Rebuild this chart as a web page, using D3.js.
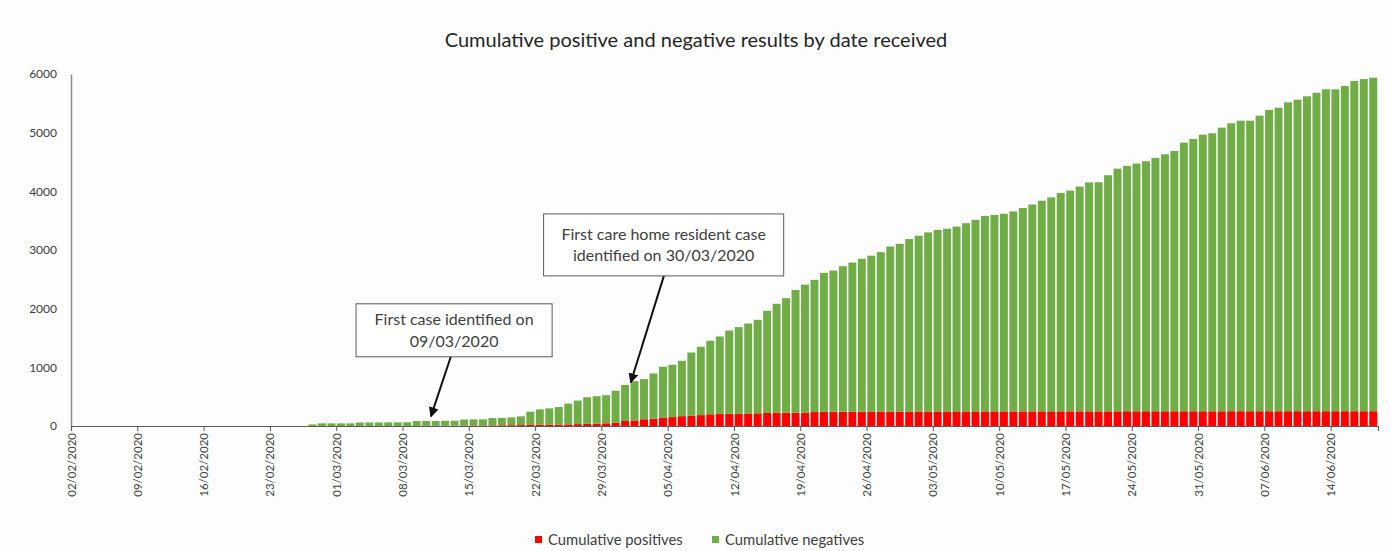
<!DOCTYPE html>
<html>
<head>
<meta charset="utf-8">
<script src="https://cdn.jsdelivr.net/npm/d3@7"></script>
<style>
  html, body { margin: 0; padding: 0; background: #fcfdfc; }
  svg { display: block; }
  text { font-family: Lato, "Open Sans", sans-serif; }
</style>
</head>
<body>
<svg id="chart" width="1391" height="551"></svg>
<script>
// ---- data ----
const startDate = "2020-02-02";
const dayCount = 138; // 02/02/2020 .. 18/06/2020

const tickLabels = ["02/02/2020","09/02/2020","16/02/2020","23/02/2020","01/03/2020",
  "08/03/2020","15/03/2020","22/03/2020","29/03/2020","05/04/2020","12/04/2020",
  "19/04/2020","26/04/2020","03/05/2020","10/05/2020","17/05/2020","24/05/2020",
  "31/05/2020","07/06/2020","14/06/2020"];

const seriesNames = ["Cumulative positives", "Cumulative negatives"];

const positives = [
  0,0,0,0,0,0,0,0,0,0,0,0,0,0,0,0,0,0,0,0,0,0,0,0,0,0,0,0,0,0,0,0,0,0,0,0,
  1,2,3,4,5,6,7,8,10,12,14,16,
  18,20,22,24,28,32,36,40,46,55,85,95,
  115,125,145,152,168,178,186,200,207,210,212,214,
  217,222,225,226,227,230,238,242,243,244,244,245,
  245,246,246,247,247,247,247,248,248,248,248,248,
  249,249,249,249,249,249,250,250,250,250,250,250,
  250,250,250,251,251,251,251,251,251,251,251,251,
  251,251,252,252,252,252,252,252,252,252,252,252,
  252,252,252,252,252,252
];

const negatives = [
  0,0,0,0,0,0,0,0,0,0,0,0,0,0,0,0,0,0,0,0,0,0,0,0,0,
  27,45,45,45,45,60,60,60,62,62,64,
  84,84,84,84,85,104,105,106,125,126,133,148,
  226,263,278,299,354,402,454,468,479,546,615,670,
  685,771,865,893,944,1075,1164,1253,1319,1418,1474,1533,
  1593,1741,1858,1953,2091,2180,2253,2368,2407,2480,2542,2605,
  2658,2717,2813,2858,2940,2996,3053,3095,3115,3151,3209,3267,
  3332,3349,3369,3409,3466,3526,3590,3646,3723,3763,3831,3902,
  3905,4024,4137,4182,4222,4262,4318,4381,4437,4579,4642,4715,
  4739,4834,4908,4952,4952,5038,5135,5174,5265,5310,5368,5429,
  5487,5487,5543,5628,5662,5685
];

const yTicks = [0,1000,2000,3000,4000,5000,6000];

// annotations: arrow tip / tail and box given in (day index, value) space
const annotations = [
  { lines: ["First case identified on", "09/03/2020"],
    box: [30.1, 50.8, 2083, 1180], tail: [40.1, 1180], tip: [38.0, 163] },
  { lines: ["First care home resident case", "identified on 30/03/2020"],
    box: [49.9, 75.25, 3615, 2559], tail: [62.6, 2559], tip: [59.1, 742] }
];

// ---- chart ----
const svg = d3.select("#chart");
const W = 1391, H = 551;
svg.append("rect").attr("width", W).attr("height", H).attr("fill", "#fcfdfc");

const x = d3.scaleLinear().domain([0, dayCount]).range([71, 1378]);
const y = d3.scaleLinear().domain([0, 6000]).range([426, 74]);
const colors = ["#ff0000", "#70ad47"];

const rows = d3.range(dayCount).map(i => ({ i, pos: positives[i], neg: negatives[i] }));
const stacked = d3.stack().keys(["pos", "neg"])(rows);

const step = x(1) - x(0);
const bw = step * 0.84;

svg.append("g").selectAll("g").data(stacked).join("g")
  .attr("fill", (d, k) => colors[k])
  .selectAll("rect").data(d => d).join("rect")
  .attr("x", d => x(d.data.i) + (step - bw) / 2)
  .attr("width", bw)
  .attr("y", d => y(d[1]))
  .attr("height", d => Math.max(0, y(d[0]) - y(d[1])));

// y axis
const yAxis = svg.append("g").attr("transform", `translate(${x(0)},0)`)
  .call(d3.axisLeft(y).tickValues(yTicks).tickSize(0).tickPadding(14).tickFormat(d3.format("d")));
yAxis.select(".domain").attr("stroke", "#8c8c8c").attr("stroke-width", 1.5);
yAxis.selectAll("text").attr("font-size", 12).attr("fill", "#404040");

// x axis
const xAxis = svg.append("g").attr("transform", `translate(0,${y(0)})`)
  .call(d3.axisBottom(x).tickValues(d3.range(0, 134, 7)).tickSize(5)
    .tickFormat((d, i) => tickLabels[i]));
xAxis.select(".domain").attr("stroke", "#595959").attr("stroke-width", 1.2);
xAxis.selectAll(".tick line").attr("stroke", "#595959");
xAxis.selectAll("text")
  .attr("font-size", 11.5).attr("fill", "#404040")
  .attr("text-anchor", "end")
  .attr("transform", "rotate(-90)")
  .attr("x", -7).attr("y", 0).attr("dy", "0.35em");

// title
svg.append("text").attr("x", 696).attr("y", 47).attr("text-anchor", "middle")
  .attr("font-size", 20).attr("fill", "#262626")
  .text("Cumulative positive and negative results by date received");

// annotations
svg.append("defs").append("marker")
  .attr("id", "arrow").attr("viewBox", "0 0 10 10").attr("refX", 9).attr("refY", 5)
  .attr("markerWidth", 5).attr("markerHeight", 5).attr("orient", "auto")
  .append("path").attr("d", "M0,0 L10,5 L0,10 z").attr("fill", "#111");

annotations.forEach(a => {
  const g = svg.append("g");
  const [bx0, bx1, by0, by1] = a.box;
  g.append("line")
    .attr("x1", x(a.tail[0])).attr("y1", y(a.tail[1]))
    .attr("x2", x(a.tip[0])).attr("y2", y(a.tip[1]))
    .attr("stroke", "#111").attr("stroke-width", 2).attr("marker-end", "url(#arrow)");
  g.append("rect")
    .attr("x", x(bx0)).attr("y", y(by0))
    .attr("width", x(bx1) - x(bx0)).attr("height", y(by1) - y(by0))
    .attr("fill", "#ffffff").attr("stroke", "#595959").attr("stroke-width", 1);
  const cx = (x(bx0) + x(bx1)) / 2;
  const top = y(by0), hgt = y(by1) - y(by0);
  a.lines.forEach((t, k) => {
    g.append("text").attr("x", cx).attr("y", top + hgt / 2 + (k - 0.5) * 21.5)
      .attr("dy", "0.35em").attr("text-anchor", "middle")
      .attr("font-size", 16).attr("fill", "#404040").text(t);
  });
});

// legend
const legend = svg.append("g").attr("transform", "translate(0,540)");
const legendX = [535, 712];
seriesNames.forEach((n, k) => {
  legend.append("rect").attr("x", legendX[k]).attr("y", -4).attr("width", 7).attr("height", 7)
    .attr("fill", colors[k]);
  legend.append("text").attr("x", legendX[k] + 13).attr("y", 0).attr("dy", "0.35em")
    .attr("font-size", 14.8).attr("fill", "#404040").text(n);
});
</script>
</body>
</html>
